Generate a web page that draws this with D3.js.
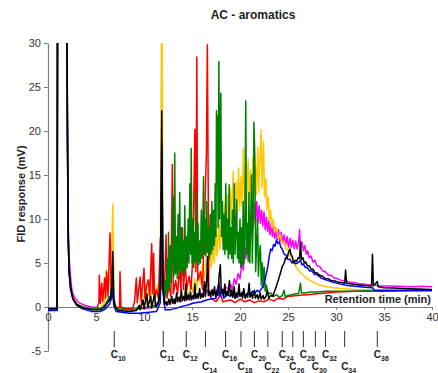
<!DOCTYPE html>
<html>
<head>
<meta charset="utf-8">
<script src="https://cdn.jsdelivr.net/npm/d3@7"></script>
<style>
  body { margin: 0; background: #fff; }
  svg { display: block; font-family: Arial, "Liberation Sans", sans-serif; }
</style>
</head>
<body>
<svg width="438" height="373"></svg>
<script>
var width = 438;
var height = 373;

var xTicks = [0, 5, 10, 15, 20, 25, 30, 35, 40];
var yTicks = [-5, 0, 5, 10, 15, 20, 25, 30];

// n-alkane retention markers
var carbonNumbers = ['10', '11', '12', '14', '16', '18', '20', '22', '24', '26', '28', '30', '32', '34', '36'];
var carbonTimes = [6.9, 12.0, 14.4, 16.4, 18.5, 20.1, 21.5, 22.9, 24.4, 25.5, 26.6, 27.85, 28.9, 30.9, 34.3];
var carbonRow = [0, 0, 0, 1, 0, 1, 0, 1, 0, 1, 0, 1, 0, 1, 0];

// traces: [time (min), response (mV)]
var magenta = [[0,-0.1],[0.95,-0.1],[1.0,40],[1.95,40],[2.02,22],[2.1,10],[2.2,5.5],[2.35,3.4],[2.5,1.8],[2.8,1.0],[3.2,0.5],[3.8,0.2],[4.5,0.0],[5.5,-0.1],[5.9,0.2],[6.3,0.6],[6.6,1.2],[6.75,3.5],[6.85,1.0],[7.0,0.0],[7.4,-0.2],[8.5,-0.3],[9.5,-0.2],[10.5,-0.1],[11.3,0.0],[11.7,1.0],[11.85,19],[12.0,3.0],[12.2,0.4],[12.6,0.3],[13.0,0.7],[13.2,0.4],[13.6,0.9],[13.8,0.6],[14.2,1.1],[14.4,0.8],[14.6,1.5],[14.8,0.9],[15.2,1.3],[15.5,1.0],[15.9,1.5],[16.2,1.2],[16.6,1.9],[16.8,1.3],[17.1,1.8],[17.4,1.5],[17.8,2.4],[18.2,1.8],[18.5,2.3],[18.8,2.0],[19.0,2.6],[19.2,2.0],[19.4,3.2],[19.6,2.6],[19.8,3.8],[20.0,3.2],[20.2,5.0],[20.35,4.2],[20.5,6.8],[20.62,5.5],[20.75,8.5],[20.87,7.0],[21.0,10.0],[21.12,8.2],[21.25,11.2],[21.37,9.0],[21.5,11.8],[21.62,9.4],[21.75,12.0],[21.87,9.6],[22.0,11.5],[22.12,9.5],[22.25,11.0],[22.37,9.2],[22.5,10.8],[22.62,8.8],[22.75,10.2],[22.87,8.6],[23.0,9.8],[23.12,8.2],[23.25,9.5],[23.37,8.0],[23.5,9.2],[23.62,7.8],[23.75,9.0],[23.87,7.6],[24.0,8.8],[24.15,7.4],[24.3,8.5],[24.45,7.2],[24.6,8.2],[24.75,7.0],[24.9,8.0],[25.05,6.8],[25.2,7.8],[25.35,6.8],[25.5,7.6],[25.65,6.6],[25.8,7.5],[25.95,6.6],[26.1,7.3],[26.2,8.8],[26.3,6.8],[26.45,7.4],[26.6,6.4],[26.75,7.0],[26.9,6.0],[27.05,6.4],[27.2,5.6],[27.4,5.8],[27.6,5.1],[27.8,5.3],[28.0,4.7],[28.3,4.6],[28.6,4.1],[28.9,4.0],[29.2,3.6],[29.5,3.6],[29.8,3.3],[30.2,3.2],[30.6,3.0],[31.0,2.95],[31.5,2.8],[32.0,2.75],[32.5,2.6],[33.0,2.6],[33.5,2.5],[34.0,2.5],[34.5,2.4],[35.5,2.4],[36.5,2.35],[38,2.3],[39,2.35],[40,2.3]];

var yellow = [[0,-0.2],[0.95,-0.2],[1.0,40],[1.95,40],[2.02,20],[2.1,8],[2.2,4],[2.35,2.2],[2.6,1.0],[3.0,0.4],[3.6,0.0],[4.5,-0.2],[5.5,-0.2],[5.9,0.5],[6.1,4.2],[6.2,1.5],[6.4,3.5],[6.55,2.0],[6.75,11.7],[6.9,1.0],[7.1,-0.2],[8.5,-0.3],[9.6,-0.2],[9.8,1.5],[9.9,0.0],[10.2,2.5],[10.3,0.2],[10.6,3.0],[10.7,0.5],[11.0,3.5],[11.1,0.6],[11.4,2.5],[11.55,0.5],[11.7,4.0],[11.85,40],[12.0,4.0],[12.2,0.5],[12.6,0.4],[13.0,0.8],[13.4,0.6],[13.8,1.3],[14.1,0.9],[14.4,2.2],[14.6,1.2],[14.9,2.6],[15.1,1.6],[15.3,3.2],[15.5,2.0],[15.7,4.0],[15.9,2.6],[16.1,4.8],[16.3,3.2],[16.5,5.6],[16.7,3.8],[16.9,6.5],[17.0,4.5],[17.2,7.4],[17.3,5.0],[17.5,8.2],[17.6,5.8],[17.8,9.5],[17.9,6.5],[18.1,10.8],[18.2,7.2],[18.4,11.5],[18.5,8.0],[18.7,12.8],[18.8,8.8],[19.0,13.5],[19.1,9.5],[19.3,15.4],[19.4,10.0],[19.6,14.2],[19.7,10.5],[19.85,15.8],[19.95,11.0],[20.1,14.8],[20.2,11.5],[20.35,18.0],[20.45,11.8],[20.6,16.2],[20.7,12.0],[20.85,16.8],[20.95,12.5],[21.1,15.5],[21.2,12.0],[21.35,17.0],[21.45,12.5],[21.6,16.0],[21.7,12.8],[21.85,18.2],[21.95,13.0],[22.1,17.5],[22.2,20.1],[22.3,13.5],[22.45,18.8],[22.55,12.5],[22.7,14.5],[22.8,11.0],[22.95,12.5],[23.05,9.8],[23.2,11.0],[23.3,9.0],[23.45,10.0],[23.6,8.5],[23.8,9.0],[24.0,7.8],[24.2,8.2],[24.4,7.2],[24.6,7.5],[24.8,6.5],[25.0,6.6],[25.3,5.6],[25.5,5.3],[25.8,4.6],[26.0,4.3],[26.3,3.9],[26.6,3.6],[27.0,3.2],[27.5,2.9],[28.0,2.6],[28.5,2.45],[29.0,2.3],[29.8,2.2],[30.5,2.1],[32,2.0],[35,1.9],[40,1.9]];

var red = [[0,-0.2],[0.95,-0.2],[1.0,40],[1.95,40],[2.02,20],[2.1,8],[2.2,4],[2.35,2.0],[2.6,0.9],[3.0,0.3],[3.6,0.0],[4.5,-0.2],[5.1,-0.1],[5.3,0.5],[5.35,3.6],[5.45,0.4],[5.6,2.7],[5.7,0.6],[5.9,3.3],[6.0,1.0],[6.1,4.0],[6.25,1.2],[6.46,8.4],[6.6,1.0],[6.75,1.5],[6.9,0.3],[7.2,-0.1],[7.45,0.0],[7.5,4.0],[7.6,0.0],[8.0,-0.2],[8.8,-0.2],[9.0,0.5],[9.2,3.3],[9.3,0.5],[9.45,2.0],[9.6,3.4],[9.7,0.6],[9.85,2.5],[10.0,4.4],[10.1,1.0],[10.3,2.6],[10.45,3.1],[10.6,1.2],[10.8,7.2],[10.9,1.5],[11.0,6.1],[11.1,1.0],[11.3,2.0],[11.5,1.0],[11.7,7.8],[11.8,2.0],[11.85,12],[11.95,2.0],[12.1,1.0],[12.3,8.2],[12.4,1.0],[12.6,2.5],[12.8,1.2],[12.95,16.2],[13.05,1.5],[13.3,3.0],[13.5,1.5],[13.7,4.5],[13.85,1.8],[14.0,9.0],[14.1,2.0],[14.3,5.0],[14.45,2.0],[14.7,3.5],[14.9,2.0],[15.1,6.0],[15.3,20.2],[15.4,4.0],[15.5,28.4],[15.6,3.0],[15.9,4.0],[16.1,2.0],[16.5,17.5],[16.6,29.8],[16.75,2.0],[17.0,1.0],[17.5,0.6],[18.0,1.4],[18.2,0.6],[19.0,0.8],[19.5,0.5],[20.0,0.9],[20.5,0.6],[21.0,0.8],[21.5,0.5],[22.0,0.7],[22.5,0.6],[23.0,0.9],[23.5,0.7],[24.0,1.0],[24.5,0.9],[25.0,1.2],[26,1.3],[27,1.4],[28,1.5],[29,1.6],[30,1.7],[32,1.8],[35,1.8],[38,1.9],[40,1.9]];

var green = [[0,-0.2],[0.95,-0.2],[1.0,40],[1.95,40],[2.02,20],[2.1,8],[2.2,4],[2.35,2.0],[2.6,0.9],[3.0,0.3],[3.6,0.0],[4.5,-0.2],[5.5,-0.2],[6.0,0.3],[6.4,1.2],[6.55,0.8],[6.72,3.4],[6.85,0.8],[7.1,-0.2],[8.5,-0.3],[9.5,-0.2],[10.5,0.0],[11.2,0.2],[11.6,0.8],[11.85,10],[12.0,1.5],[12.1,0.8],[12.2,3.0],[12.3,1.2],[12.4,5.5],[12.5,1.8],[12.55,8.5],[12.65,2.2],[12.75,7.0],[12.85,2.8],[12.95,5.5],[13.05,12.5],[13.12,3.5],[13.2,17.5],[13.28,3.8],[13.38,8.0],[13.46,3.2],[13.55,10.5],[13.63,3.8],[13.72,13.0],[13.8,4.2],[13.9,9.0],[13.98,3.6],[14.08,7.5],[14.16,4.0],[14.25,11.5],[14.33,4.2],[14.42,8.0],[14.5,4.5],[14.6,10.0],[14.68,5.0],[14.78,14.0],[14.86,6.0],[14.92,18.0],[15.0,5.0],[15.1,10.0],[15.18,4.5],[15.28,8.5],[15.36,5.0],[15.45,13.0],[15.53,5.2],[15.62,9.5],[15.7,4.8],[15.8,7.5],[15.88,5.0],[15.97,11.0],[16.05,5.5],[16.13,9.0],[16.2,14.8],[16.28,6.0],[16.37,10.0],[16.45,5.8],[16.54,12.0],[16.62,6.2],[16.72,9.0],[16.8,5.5],[16.9,10.5],[16.98,6.0],[17.07,12.0],[17.15,6.5],[17.25,11.0],[17.33,7.0],[17.42,14.0],[17.5,8.0],[17.55,22.3],[17.6,14.0],[17.65,21.7],[17.72,9.0],[17.8,27.9],[17.88,10.0],[17.95,20.0],[18.0,24.3],[18.08,8.0],[18.17,12.0],[18.25,6.5],[18.34,10.5],[18.42,6.0],[18.52,14.0],[18.6,6.5],[18.7,10.0],[18.78,5.5],[18.87,13.9],[18.95,6.0],[19.05,9.0],[19.13,5.5],[19.22,11.0],[19.3,5.0],[19.4,14.0],[19.48,6.0],[19.57,9.0],[19.65,12.2],[19.73,5.5],[19.82,8.5],[19.9,5.0],[20.0,10.0],[20.08,4.5],[20.17,9.0],[20.25,4.8],[20.33,12.0],[20.42,5.0],[20.5,8.0],[20.6,23.4],[20.68,6.0],[20.77,9.5],[20.85,5.2],[20.93,13.0],[21.02,5.0],[21.1,9.0],[21.2,15.0],[21.28,5.0],[21.37,10.0],[21.45,21.0],[21.55,17.0],[21.63,4.0],[21.73,7.0],[21.83,10.0],[21.92,3.5],[22.02,6.0],[22.12,7.0],[22.22,2.5],[22.32,5.0],[22.42,2.2],[22.52,4.5],[22.62,1.8],[22.75,2.5],[22.9,1.5],[23.2,1.6],[23.5,1.2],[23.8,1.4],[24.1,1.1],[24.4,1.3],[24.6,1.9],[24.7,1.2],[25.0,1.3],[25.4,1.4],[25.8,1.5],[26.1,1.5],[26.3,2.7],[26.4,1.6],[26.8,1.6],[27.3,1.7],[28,1.7],[29,1.8],[30,1.8],[32,1.8],[35,1.9],[40,1.9]];

var blue = [[0,-0.4],[0.95,-0.4],[1.0,40],[1.95,40],[2.02,22],[2.1,9],[2.2,4.5],[2.35,2.5],[2.6,1.0],[3.0,0.2],[3.6,-0.2],[4.5,-0.5],[5.5,-0.5],[6.0,-0.2],[6.4,0.3],[6.6,1.0],[6.72,2.0],[6.85,0.2],[7.1,-0.5],[8.5,-0.7],[9.5,-0.7],[10.5,-0.6],[11.3,-0.5],[11.7,0.5],[11.85,18.6],[12.0,2.0],[12.2,-0.3],[12.8,-0.3],[13.5,-0.1],[14.0,0.1],[14.5,0.2],[15.0,0.4],[15.5,0.5],[16.0,0.6],[16.5,0.8],[17.0,0.9],[17.5,1.0],[17.8,2.8],[17.9,1.2],[18.1,2.0],[18.3,1.0],[18.7,1.5],[19.0,1.2],[19.3,1.6],[19.5,1.0],[19.8,1.5],[20.0,1.3],[20.3,1.7],[20.5,1.1],[20.8,1.6],[21.0,1.4],[21.3,1.8],[21.5,1.5],[21.8,1.9],[22.0,1.7],[22.3,2.2],[22.5,2.6],[22.7,3.6],[22.9,4.6],[23.05,5.8],[23.2,6.6],[23.35,6.4],[23.5,7.1],[23.65,6.9],[23.8,7.6],[23.95,7.2],[24.1,7.4],[24.25,6.8],[24.4,6.6],[24.6,6.0],[24.8,5.9],[25.0,5.4],[25.2,5.4],[25.4,5.0],[25.6,5.2],[25.8,4.9],[26.0,5.0],[26.3,5.3],[26.45,4.8],[26.6,4.9],[26.8,4.5],[27.0,4.5],[27.25,4.1],[27.5,4.1],[27.75,3.7],[28.0,3.7],[28.5,3.25],[29.0,3.05],[29.7,2.8],[30.5,2.6],[31.2,2.45],[32.0,2.35],[33.0,2.25],[33.8,2.2],[34.0,1.9],[35,1.85],[37,1.85],[40,1.85]];

var black = [[0,-0.2],[0.95,-0.2],[1.0,40],[1.95,40],[2.02,21],[2.1,8],[2.2,4],[2.35,2.2],[2.6,0.9],[3.0,0.2],[3.6,-0.1],[4.5,-0.3],[5.5,-0.3],[5.9,0.0],[6.2,0.5],[6.5,1.0],[6.65,2.5],[6.75,6.3],[6.85,1.0],[7.0,0.0],[7.3,-0.4],[8.5,-0.5],[9.2,-0.4],[9.5,0.2],[9.6,-0.3],[9.9,0.8],[10.0,-0.2],[10.3,1.5],[10.4,0.0],[10.7,1.2],[10.8,-0.1],[11.1,1.5],[11.2,0.0],[11.5,0.5],[11.7,2.0],[11.85,22.3],[11.95,3.0],[12.1,0.3],[12.3,0.6],[12.4,0.2],[12.6,0.9],[12.7,0.3],[12.9,1.2],[13.0,0.4],[13.15,0.9],[13.25,0.4],[13.4,1.6],[13.5,0.6],[13.65,1.1],[13.75,0.6],[13.9,1.9],[14.0,0.7],[14.15,1.2],[14.25,0.7],[14.35,2.6],[14.45,0.8],[14.6,1.4],[14.7,0.8],[14.85,1.7],[14.95,0.8],[15.1,1.3],[15.2,0.9],[15.3,2.6],[15.4,1.0],[15.55,1.5],[15.65,1.0],[15.8,2.1],[15.9,1.0],[16.05,1.5],[16.15,1.1],[16.3,2.9],[16.4,1.2],[16.55,3.5],[16.62,5.7],[16.7,1.3],[16.85,1.8],[16.95,1.2],[17.1,2.0],[17.2,1.3],[17.35,2.3],[17.45,1.2],[17.6,1.8],[17.7,1.3],[17.82,3.5],[17.95,4.8],[18.05,1.6],[18.2,2.0],[18.3,1.3],[18.42,2.6],[18.52,1.2],[18.65,1.8],[18.75,1.3],[18.9,3.0],[19.0,1.3],[19.15,1.9],[19.25,1.1],[19.4,2.3],[19.5,1.0],[19.65,1.6],[19.75,1.1],[19.9,2.6],[20.0,1.2],[20.15,1.6],[20.25,1.0],[20.4,2.1],[20.55,1.0],[20.7,1.5],[20.8,1.1],[20.95,2.7],[21.05,1.1],[21.2,1.6],[21.3,1.0],[21.5,1.9],[21.6,1.0],[21.8,1.4],[21.9,0.9],[22.1,1.6],[22.2,0.9],[22.4,1.3],[22.5,0.9],[22.7,1.2],[22.85,1.9],[23.0,1.0],[23.2,1.3],[23.4,1.2],[23.6,1.8],[23.8,2.4],[24.0,3.1],[24.2,3.8],[24.4,4.6],[24.6,5.0],[24.75,5.6],[24.9,5.5],[25.05,6.2],[25.2,6.6],[25.3,6.0],[25.45,5.7],[25.6,5.0],[25.75,5.3],[25.9,5.2],[26.05,5.6],[26.2,5.5],[26.3,7.4],[26.4,5.4],[26.55,5.6],[26.7,5.0],[26.85,5.1],[27.0,4.7],[27.2,4.7],[27.4,4.3],[27.6,4.3],[27.8,3.9],[28.0,3.9],[28.3,3.6],[28.6,3.5],[28.9,3.2],[29.2,3.2],[29.5,3.0],[29.9,2.95],[30.3,2.8],[30.7,2.75],[30.9,2.7],[31.0,4.2],[31.1,2.7],[31.5,2.65],[32,2.55],[32.5,2.5],[33,2.45],[33.7,2.4],[33.8,6.0],[33.9,2.4],[34.3,2.9],[34.4,2.3],[35,2.2],[36,2.15],[37,2.1],[38.5,2.05],[40,2.0]];

var series = [
  { color: '#ff00ff', data: magenta },
  { color: '#ffc800', data: yellow },
  { color: '#ff0000', data: red },
  { color: '#008000', data: green },
  { color: '#0000ff', data: blue },
  { color: '#000000', data: black }
];

var x = d3.scaleLinear().domain([0, 40]).range([48, 432]);
var y = d3.scaleLinear().domain([-5, 30]).range([351, 43]);

var svg = d3.select('svg');

svg.append('defs').append('clipPath').attr('id', 'plot')
  .append('rect')
  .attr('x', x(0)).attr('y', y(30))
  .attr('width', x(40) - x(0)).attr('height', y(-5) - y(30));

// axes
var plain = function(d){ return String(d); };

var yAxis = svg.append('g')
  .attr('transform', 'translate(' + x(0) + ',0)')
  .call(d3.axisLeft(y).tickValues(yTicks).tickFormat(plain).tickSize(4).tickSizeOuter(0).tickPadding(3));

var xAxis = svg.append('g')
  .attr('transform', 'translate(0,' + y(0) + ')')
  .call(d3.axisBottom(x).tickValues(xTicks).tickFormat(plain).tickSize(3).tickSizeOuter(0).tickPadding(3));

[xAxis, yAxis].forEach(function(g){
  g.select('.domain').attr('stroke', '#7f7f7f').attr('stroke-width', 1.2);
  g.selectAll('.tick line').attr('stroke', '#7f7f7f');
  g.selectAll('.tick text').attr('fill', '#333').style('font-size', '11px').style('font-family', 'Arial, "Liberation Sans", sans-serif');
});

// traces
var line = d3.line()
  .x(function(d){ return x(d[0]); })
  .y(function(d){ return y(d[1]); });

svg.append('g').attr('clip-path', 'url(#plot)')
  .selectAll('path')
  .data(series)
  .enter().append('path')
  .attr('d', function(d){ return line(d.data); })
  .attr('fill', 'none')
  .attr('stroke', function(d){ return d.color; })
  .attr('stroke-width', 1.5)
  .attr('stroke-linejoin', 'round');

// titles
svg.append('text')
  .attr('x', 253).attr('y', 18.5)
  .attr('text-anchor', 'middle')
  .style('font-size', '12px').style('font-weight', 'bold')
  .attr('fill', '#222')
  .text('AC - aromatics');

svg.append('text')
  .attr('transform', 'translate(25,194) rotate(-90)')
  .attr('text-anchor', 'middle')
  .style('font-size', '11px').style('font-weight', 'bold')
  .attr('fill', '#222')
  .text('FID response (mV)');

svg.append('text')
  .attr('x', 431).attr('y', 303)
  .attr('text-anchor', 'end')
  .style('font-size', '11px').style('font-weight', 'bold')
  .attr('fill', '#222')
  .text('Retention time (min)');

// carbon number markers
var markers = svg.append('g').selectAll('g')
  .data(carbonTimes)
  .enter().append('g')
  .attr('transform', function(d){ return 'translate(' + x(d) + ',0)'; });

markers.append('line')
  .attr('y1', 331).attr('y2', 347)
  .attr('stroke', '#333').attr('stroke-width', 1);

var labels = markers.append('text')
  .attr('x', -3.5)
  .attr('y', function(d, i){ return carbonRow[i] ? 369.5 : 358; })
  .style('font-size', '10px').style('font-weight', 'bold')
  .attr('fill', '#222');

labels.append('tspan').text('C');
labels.append('tspan')
  .attr('dy', 3)
  .style('font-size', '7px')
  .text(function(d, i){ return carbonNumbers[i]; });
</script>
</body>
</html>
